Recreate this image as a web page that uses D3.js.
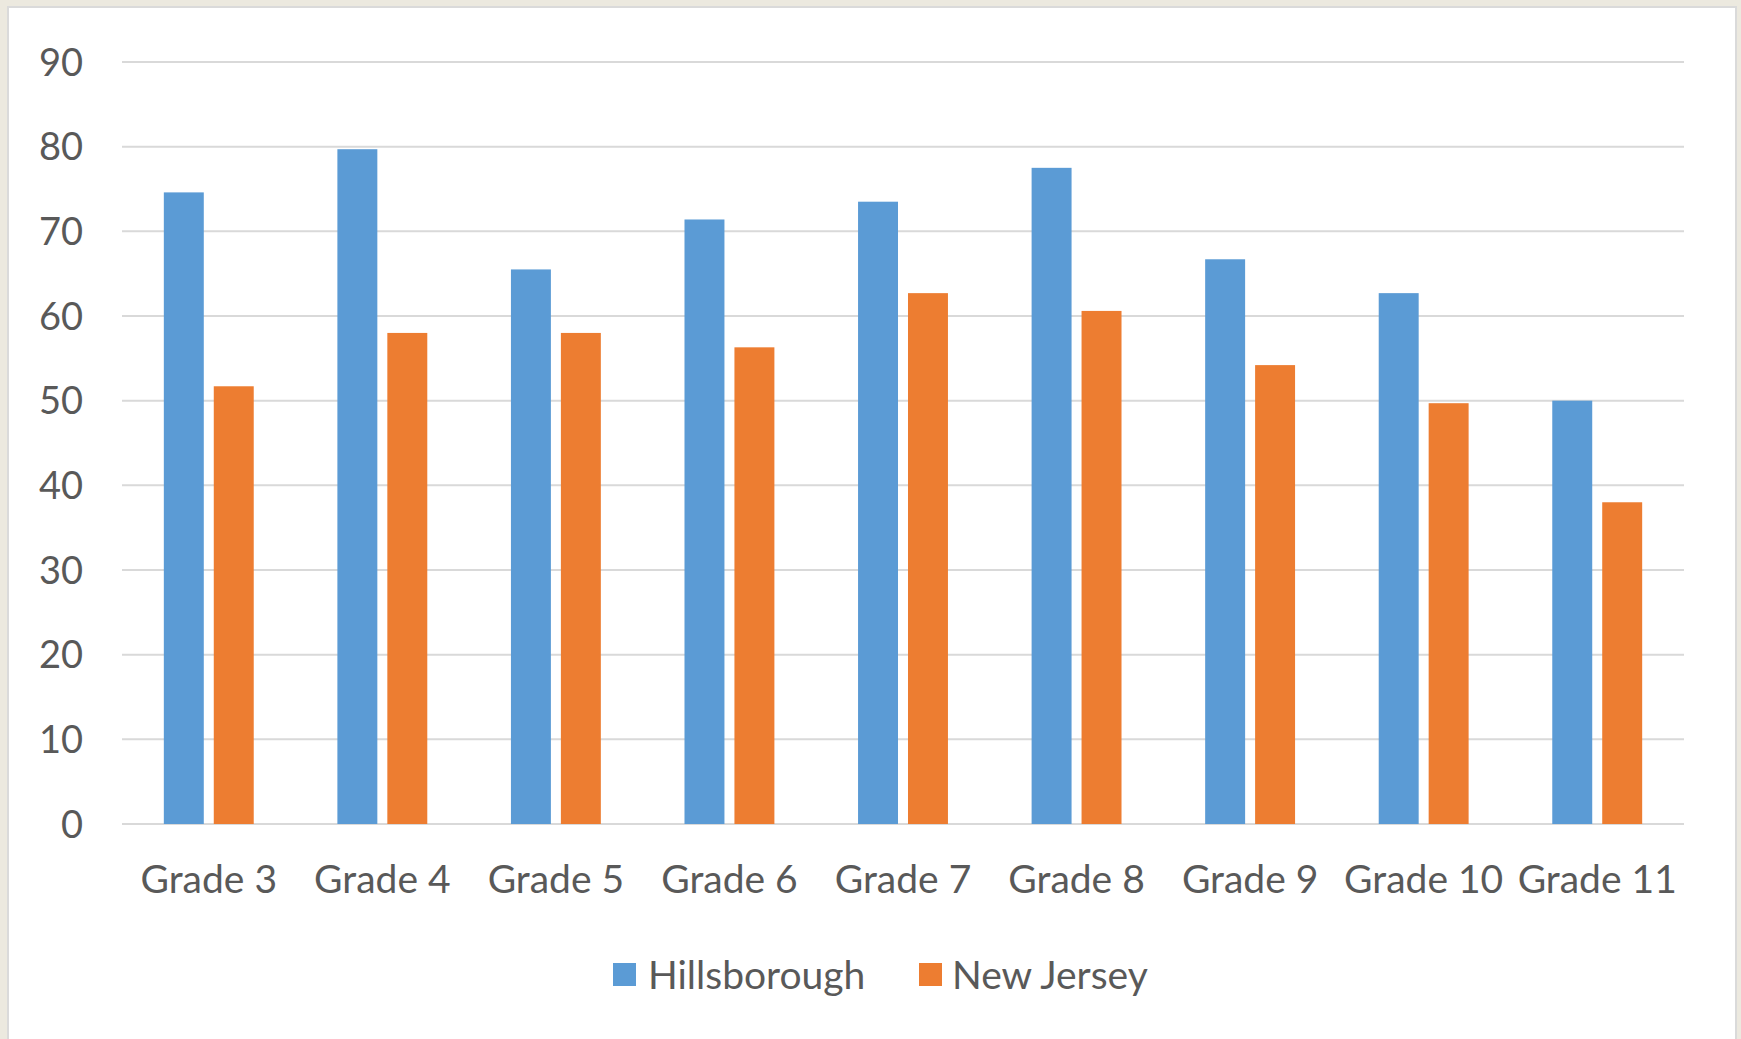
<!DOCTYPE html>
<html>
<head>
<meta charset="utf-8">
<script src="https://cdn.jsdelivr.net/npm/d3@7/dist/d3.min.js"></script>
<style>
  html, body { margin: 0; padding: 0; background: #ECE9DF; }
  svg { display: block; }
</style>
</head>
<body>
<svg id="chart" width="1741" height="1039"></svg>
<script>
const categories = ["Grade 3", "Grade 4", "Grade 5", "Grade 6", "Grade 7", "Grade 8", "Grade 9", "Grade 10", "Grade 11"];
const seriesNames = ["Hillsborough", "New Jersey"];
const hillsborough = [74.6, 79.7, 65.5, 71.4, 73.5, 77.5, 66.7, 62.7, 50.0];
const newJersey = [51.7, 58.0, 58.0, 56.3, 62.7, 60.6, 54.2, 49.7, 38.0];
const yTicks = [0, 10, 20, 30, 40, 50, 60, 70, 80, 90];
const colors = ["#5B9BD5", "#ED7D31"];

(function () {
const seriesValues = [hillsborough, newJersey];
const W = 1741, H = 1039;
const svg = d3.select("#chart");
const font = "Lato, 'Open Sans', sans-serif";
const textColor = "#595959";

// background panel
svg.append("rect").attr("x", 0).attr("y", 0).attr("width", W).attr("height", H).attr("fill", "#ECE9DF");
svg.append("rect").attr("x", 8).attr("y", 7).attr("width", 1728).attr("height", H + 10)
  .attr("fill", "#FFFFFF").attr("stroke", "#DADADA").attr("stroke-width", 2);

const pLeft = 122, pRight = 1684, pTop = 62, pBottom = 824;

const x = d3.scaleBand().domain(categories).range([pLeft, pRight]).paddingInner(0.482).paddingOuter(0.241);
const xs = d3.scaleBand().domain(seriesNames).range([0, x.bandwidth()]).paddingInner(0.2);
const y = d3.scaleLinear().domain([0, 90]).range([pBottom, pTop]);

// gridlines
svg.append("g").selectAll("line").data(yTicks).join("line")
  .attr("x1", pLeft).attr("x2", pRight)
  .attr("y1", d => y(d)).attr("y2", d => y(d))
  .attr("stroke", "#D9D9D9").attr("stroke-width", 2);

// y axis labels
const yAxis = d3.axisLeft(y).tickValues(yTicks).tickSize(0).tickPadding(0);
const yg = svg.append("g").attr("transform", `translate(${83},0)`).call(yAxis);
yg.select(".domain").remove();
yg.selectAll("text").attr("font-family", font).attr("font-size", 38).attr("fill", textColor).attr("dy", "0.35em");

// bars
const groups = svg.append("g").selectAll("g").data(categories).join("g")
  .attr("transform", d => `translate(${x(d)},0)`);
groups.selectAll("rect").data((d, i) => seriesNames.map((s, j) => ({ s, v: seriesValues[j][i], j })))
  .join("rect")
  .attr("x", d => xs(d.s))
  .attr("width", xs.bandwidth())
  .attr("y", d => y(d.v))
  .attr("height", d => y(0) - y(d.v))
  .attr("fill", d => colors[d.j]);

// x axis labels
const xAxis = d3.axisBottom(x).tickSize(0).tickPadding(0);
const xg = svg.append("g").attr("transform", `translate(0,${893})`).call(xAxis);
xg.select(".domain").remove();
xg.selectAll("text").attr("font-family", font).attr("font-size", 39).attr("fill", textColor).attr("dy", "0");

// legend
const legendItems = [{ name: seriesNames[0], sx: 613, tx: 648 }, { name: seriesNames[1], sx: 919, tx: 952 }];
const lg = svg.append("g");
legendItems.forEach((it, i) => {
  lg.append("rect").attr("x", it.sx).attr("y", 963).attr("width", 23).attr("height", 23).attr("fill", colors[i]);
  lg.append("text").attr("x", it.tx).attr("y", 989).attr("font-family", font).attr("font-size", 39)
    .attr("fill", textColor).text(it.name);
});
})();
</script>
</body>
</html>
